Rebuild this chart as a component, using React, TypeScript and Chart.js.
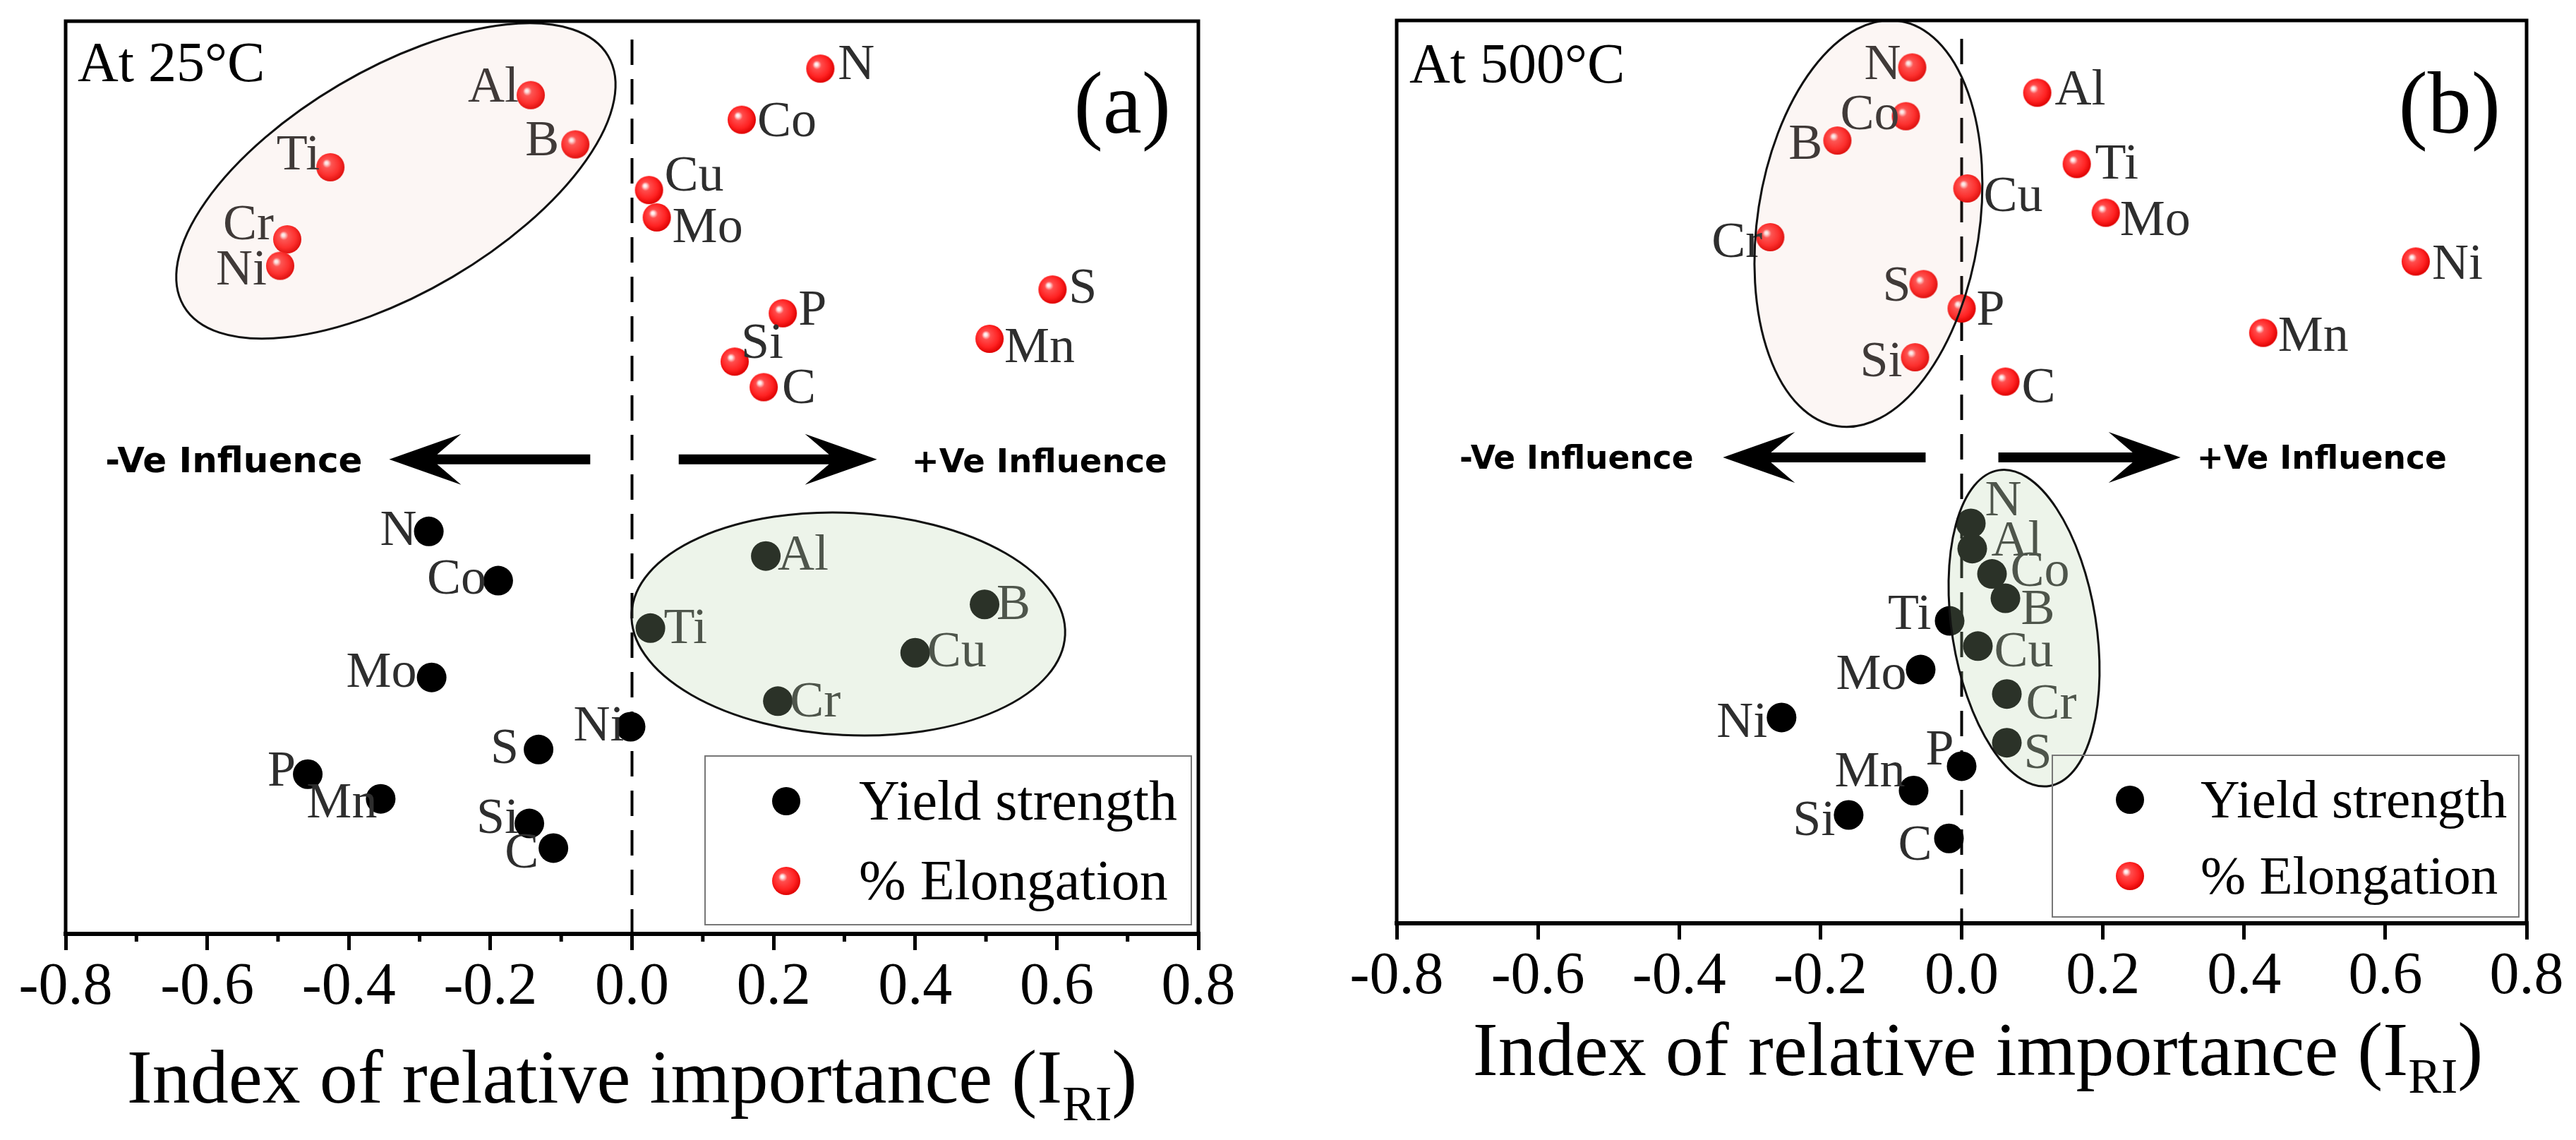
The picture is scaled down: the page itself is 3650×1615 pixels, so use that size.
import React, { useEffect, useRef } from 'react';
import { Chart, registerables } from 'chart.js';

Chart.register(...registerables);

const SERIF = '"Liberation Serif", "Times New Roman", Times, serif';
const SANS = '"DejaVu Sans", "Liberation Sans", Arial, sans-serif';

// ---------- data ----------
const ELEMENTS = ['N', 'Al', 'Co', 'B', 'Ti', 'Cu', 'Mo', 'Cr', 'Ni', 'S', 'P', 'Mn', 'Si', 'C'];
const X_TICK_LABELS = ['-0.8', '-0.6', '-0.4', '-0.2', '0.0', '0.2', '0.4', '0.6', '0.8'];
const MINOR_TICKS = [-0.7, -0.5, -0.3, -0.1, 0.1, 0.3, 0.5, 0.7];

// (a) At 25°C
const A_ELONG_X = [0.266, -0.143, 0.155, -0.080, -0.426, 0.024, 0.035, -0.487, -0.497, 0.594, 0.213, 0.505, 0.145, 0.186];
const A_ELONG_Y = [94.8, 91.9, 89.2, 86.5, 84.0, 81.5, 78.5, 76.1, 73.2, 70.6, 68.0, 65.2, 62.7, 59.9];
const A_YIELD_X = [-0.287, 0.189, -0.189, 0.498, 0.026, 0.400, -0.283, 0.206, -0.002, -0.132, -0.458, -0.355, -0.145, -0.111];
const A_YIELD_Y = [44.1, 41.4, 38.7, 36.1, 33.5, 30.8, 28.1, 25.5, 22.7, 20.2, 17.5, 14.8, 12.1, 9.4];

// (b) At 500°C
const B_ELONG_X = [-0.070, 0.107, -0.079, -0.176, 0.163, 0.008, 0.204, -0.271, 0.643, -0.054, 0.000, 0.427, -0.066, 0.062];
const B_ELONG_Y = [94.8, 92.0, 89.4, 86.7, 84.1, 81.4, 78.7, 76.0, 73.3, 70.8, 68.1, 65.4, 62.7, 60.0];
const B_YIELD_X = [0.013, 0.015, 0.043, 0.062, -0.017, 0.023, -0.058, 0.064, -0.255, 0.064, 0.000, -0.068, -0.160, -0.018];
const B_YIELD_Y = [44.3, 41.5, 38.7, 36.0, 33.5, 30.7, 28.1, 25.4, 22.8, 20.0, 17.4, 14.7, 12.0, 9.4];

// ---------- label placement (px offsets: dx>0 text to the right, dx<0 text to the left) ----------
const A_ELONG_OFF = [[25, -4], [-17, -10], [22, 4], [-23, -3], [-15, -16], [22, -18], [22, 16], [-19, -19], [-19, 8], [23, 0], [22, -3], [21, 14], [9, -24], [26, 4]];
const A_YIELD_OFF = [[-17, 0], [17, 0], [-17, -1], [17, 2], [19, 2], [17, 0], [-21, -6], [17, 3], [-9, 1], [-28, 0], [-17, -3], [-5, 7], [-15, -5], [-21, 9]];
const B_ELONG_OFF = [[-16, -2], [25, -2], [-9, 0], [-21, 7], [26, 2], [23, 13], [20, 13], [-11, 9], [23, 6], [-18, 5], [21, 4], [21, 7], [-18, 8], [23, 10]];
const B_YIELD_OFF = [[20, -30], [27, -9], [26, -2], [22, 18], [-26, -7], [23, 10], [-20, 8], [27, 16], [-20, 9], [24, 17], [-11, -21], [-12, -25], [-19, 10], [-24, 11]];

type Ell = { cx: number; cy: number; a: number; b: number; rot: number; fill: string };
type Panel = {
  width: number;
  pad: { left: number; right: number; top: number };
  xAxisHeight: number;
  elongX: number[]; elongY: number[]; yieldX: number[]; yieldY: number[];
  elongOff: number[][]; yieldOff: number[][];
  minor: boolean;
  ellipses: Ell[];
  arrowY: number; arrows: number[][]; negTextX: number; posTextX: number; negSize: number; posSize: number; inflDrop: number;
  legend: { dx: number; dy: number; w: number; h: number; mx: number; tx: number; r1: number; r2: number; font: number };
  temp: { text: string; dx: number; dy: number; size: number };
  tag: { text: string; inset: number; dy: number; size: number };
  title: { offset: number; baseline: number };
};

const PINK = 'rgba(230,170,150,0.10)';
const GREEN = 'rgba(180,209,167,0.24)';

const PANEL_A: Panel = {
  width: 1800,
  pad: { left: 93, right: 102, top: 30 },
  xAxisHeight: 292,
  elongX: A_ELONG_X, elongY: A_ELONG_Y, yieldX: A_YIELD_X, yieldY: A_YIELD_Y,
  elongOff: A_ELONG_OFF, yieldOff: A_YIELD_OFF,
  minor: true,
  ellipses: [
    { cx: -0.3335, cy: 82.5, a: 349, b: 158, rot: -30.5, fill: PINK },
    { cx: 0.3056, cy: 33.95, a: 307.5, b: 157.5, rot: 2.9, fill: GREEN },
  ],
  arrowY: 52.0, arrows: [[-0.059, -0.343], [0.066, 0.346]], negTextX: -0.744, posTextX: 0.395, negSize: 50, posSize: 46.5, inflDrop: 18,
  legend: { dx: -699, dy: -252, w: 689, h: 239, mx: 115, tx: 218, r1: 64, r2: 177, font: 80 },
  temp: { text: 'At 25°C', dx: 17, dy: 85, size: 80 },
  tag: { text: '(a)', inset: 39, dy: 158, size: 124 },
  title: { offset: 0, baseline: 239 },
};

const PANEL_B: Panel = {
  width: 1850,
  pad: { left: 179, right: 70, top: 29 },
  xAxisHeight: 307,
  elongX: B_ELONG_X, elongY: B_ELONG_Y, yieldX: B_YIELD_X, yieldY: B_YIELD_Y,
  elongOff: B_ELONG_OFF, yieldOff: B_YIELD_OFF,
  minor: false,
  ellipses: [
    { cx: -0.132, cy: 77.5, a: 290.4, b: 157.2, rot: -81.3, fill: PINK },
    { cx: 0.0884, cy: 32.7, a: 226.5, b: 102.1, rot: -99.1, fill: GREEN },
  ],
  arrowY: 51.6, arrows: [[-0.051, -0.338], [0.052, 0.310]], negTextX: -0.711, posTextX: 0.333, negSize: 45.5, posSize: 45.5, inflDrop: 15.5,
  legend: { dx: -672, dy: -238, w: 661, h: 229, mx: 110, tx: 210, r1: 63, r2: 171, font: 77 },
  temp: { text: 'At 500°C', dx: 18, dy: 88, size: 80 },
  tag: { text: '(b)', inset: 37, dy: 159, size: 124 },
  title: { offset: 23, baseline: 215 },
};

function makeBall(r: number): HTMLCanvasElement {
  const c = document.createElement('canvas');
  const s = Math.ceil(r * 2 + 2);
  c.width = s;
  c.height = s;
  const g = c.getContext('2d')!;
  const cx = s / 2, cy = s / 2;
  const grad = g.createRadialGradient(cx - r * 0.3, cy - r * 0.32, 0, cx - r * 0.08, cy - r * 0.1, r * 1.12);
  grad.addColorStop(0, '#ffffff');
  grad.addColorStop(0.1, '#ffe4e4');
  grad.addColorStop(0.28, '#ff4d4d');
  grad.addColorStop(0.7, '#ff2222');
  grad.addColorStop(1, '#dd0000');
  g.fillStyle = grad;
  g.beginPath();
  g.arc(cx, cy, r, 0, Math.PI * 2);
  g.fill();
  return c;
}

function drawArrow(ctx: CanvasRenderingContext2D, xTail: number, xTip: number, y: number) {
  const dir = Math.sign(xTip - xTail);
  const headLen = 102, headHalf = 36, notch = 68, shaftHalf = 7;
  ctx.beginPath();
  ctx.moveTo(xTip, y);
  ctx.lineTo(xTip - dir * headLen, y - headHalf);
  ctx.lineTo(xTip - dir * notch, y - shaftHalf);
  ctx.lineTo(xTail, y - shaftHalf);
  ctx.lineTo(xTail, y + shaftHalf);
  ctx.lineTo(xTip - dir * notch, y + shaftHalf);
  ctx.lineTo(xTip - dir * headLen, y + headHalf);
  ctx.closePath();
  ctx.fillStyle = '#000';
  ctx.fill();
}

function buildChart(canvas: HTMLCanvasElement, P: Panel): Chart {
  const ball = makeBall(20);

  const decor = {
    id: 'decor',
    beforeDatasetsDraw(chart: any) {
      const { ctx, chartArea: ca, scales } = chart;
      const x0 = scales.x.getPixelForValue(0);
      ctx.save();
      ctx.strokeStyle = '#000';
      ctx.lineWidth = 4;
      ctx.setLineDash([36, 20]);
      ctx.beginPath();
      ctx.moveTo(x0, ca.top + 26);
      ctx.lineTo(x0, ca.bottom);
      ctx.stroke();
      ctx.restore();
    },
    afterDatasetsDraw(chart: any) {
      const { ctx, chartArea: ca, scales } = chart;
      const sx = scales.x, sy = scales.y;
      ctx.save();
      // element labels
      ctx.fillStyle = '#2e2e2e';
      ctx.font = `72px ${SERIF}`;
      ctx.textBaseline = 'middle';
      const drawLabels = (idx: number, offs: number[][]) => {
        const meta = chart.getDatasetMeta(idx);
        meta.data.forEach((pt: any, i: number) => {
          const [dx, dy] = offs[i];
          ctx.textAlign = dx >= 0 ? 'left' : 'right';
          ctx.fillText(ELEMENTS[i], pt.x + dx, pt.y + dy);
        });
      };
      drawLabels(0, P.yieldOff);
      drawLabels(1, P.elongOff);

      // ellipses
      P.ellipses.forEach((e) => {
        ctx.save();
        ctx.translate(sx.getPixelForValue(e.cx), sy.getPixelForValue(e.cy));
        ctx.rotate((e.rot * Math.PI) / 180);
        ctx.beginPath();
        ctx.ellipse(0, 0, e.a, e.b, 0, 0, Math.PI * 2);
        ctx.fillStyle = e.fill;
        ctx.fill();
        ctx.lineWidth = 3;
        ctx.strokeStyle = '#111';
        ctx.stroke();
        ctx.restore();
      });

      // arrows + influence text
      const ay = sy.getPixelForValue(P.arrowY);
      P.arrows.forEach(([tail, tip]) => drawArrow(ctx, sx.getPixelForValue(tail), sx.getPixelForValue(tip), ay));
      ctx.fillStyle = '#000';
      ctx.textAlign = 'left';
      ctx.textBaseline = 'alphabetic';
      ctx.font = `bold ${P.negSize}px ${SANS}`;
      ctx.fillText('-Ve Influence', sx.getPixelForValue(P.negTextX), ay + P.inflDrop);
      ctx.font = `bold ${P.posSize}px ${SANS}`;
      ctx.fillText('+Ve Influence', sx.getPixelForValue(P.posTextX), ay + P.inflDrop);

      // legend
      const L = P.legend;
      const lx = ca.right + L.dx, ly = ca.bottom + L.dy;
      ctx.lineWidth = 2;
      ctx.strokeStyle = '#777';
      ctx.strokeRect(lx, ly, L.w, L.h);
      ctx.fillStyle = '#000';
      ctx.beginPath();
      ctx.arc(lx + L.mx, ly + L.r1, 20, 0, Math.PI * 2);
      ctx.fill();
      ctx.drawImage(ball, lx + L.mx - ball.width / 2, ly + L.r2 - ball.height / 2);
      ctx.font = `${L.font}px ${SERIF}`;
      ctx.textAlign = 'left';
      ctx.textBaseline = 'alphabetic';
      const capHalf = L.font * 0.33;
      ctx.fillText('Yield strength', lx + L.tx, ly + L.r1 + capHalf);
      ctx.fillText('% Elongation', lx + L.tx, ly + L.r2 + capHalf);

      // temperature + panel tag
      ctx.font = `${P.temp.size}px ${SERIF}`;
      ctx.fillText(P.temp.text, ca.left + P.temp.dx, ca.top + P.temp.dy);
      ctx.font = `${P.tag.size}px ${SERIF}`;
      ctx.textAlign = 'right';
      ctx.fillText(P.tag.text, ca.right - P.tag.inset, ca.top + P.tag.dy);

      // frame (left, top, right)
      ctx.strokeStyle = '#000';
      ctx.lineWidth = 5;
      ctx.setLineDash([]);
      ctx.beginPath();
      ctx.moveTo(ca.left, ca.bottom);
      ctx.lineTo(ca.left, ca.top);
      ctx.lineTo(ca.right, ca.top);
      ctx.lineTo(ca.right, ca.bottom);
      ctx.stroke();
      ctx.restore();
    },
    afterDraw(chart: any) {
      const { ctx, chartArea: ca, scales } = chart;
      const sx = scales.x;
      ctx.save();
      if (P.minor) {
        ctx.strokeStyle = '#000';
        ctx.lineWidth = 5;
        MINOR_TICKS.forEach((v) => {
          const px = sx.getPixelForValue(v);
          ctx.beginPath();
          ctx.moveTo(px, ca.bottom);
          ctx.lineTo(px, ca.bottom + 11);
          ctx.stroke();
        });
      }
      // axis title with subscript
      const main = 'Index of relative importance (I';
      const mainFont = `108px ${SERIF}`;
      const subFont = `70px ${SERIF}`;
      ctx.font = mainFont;
      const w1 = ctx.measureText(main).width;
      const w3 = ctx.measureText(')').width;
      ctx.font = subFont;
      const w2 = ctx.measureText('RI').width;
      const total = w1 + w2 + w3;
      const cx = (ca.left + ca.right) / 2 + P.title.offset;
      const base = ca.bottom + P.title.baseline;
      let x = cx - total / 2;
      ctx.fillStyle = '#000';
      ctx.textAlign = 'left';
      ctx.textBaseline = 'alphabetic';
      ctx.font = mainFont;
      ctx.fillText(main, x, base);
      x += w1;
      ctx.font = subFont;
      ctx.fillText('RI', x, base + 25);
      x += w2;
      ctx.font = mainFont;
      ctx.fillText(')', x, base);
      ctx.restore();
    },
  };

  return new Chart(canvas, {
    type: 'scatter',
    data: {
      datasets: [
        {
          label: 'Yield strength',
          data: P.yieldX.map((x, i) => ({ x, y: P.yieldY[i] })),
          pointStyle: 'circle',
          pointRadius: 21,
          backgroundColor: '#000',
          borderWidth: 0,
        },
        {
          label: '% Elongation',
          data: P.elongX.map((x, i) => ({ x, y: P.elongY[i] })),
          pointStyle: ball as any,
          pointRadius: 20,
          backgroundColor: '#ff2020',
          borderWidth: 0,
        },
      ],
    },
    options: {
      animation: false,
      responsive: false,
      maintainAspectRatio: false,
      devicePixelRatio: 1,
      events: [],
      layout: { padding: { left: P.pad.left, right: P.pad.right, top: P.pad.top, bottom: 0 } },
      plugins: { legend: { display: false }, tooltip: { enabled: false }, title: { display: false } },
      scales: {
        x: {
          type: 'linear',
          min: -0.8,
          max: 0.8,
          afterFit: (s: any) => {
            s.height = P.xAxisHeight;
            s.paddingLeft = 0;
            s.paddingRight = 0;
          },
          ticks: {
            stepSize: 0.2,
            autoSkip: false,
            maxRotation: 0,
            padding: 4,
            color: '#000',
            font: { family: SERIF, size: 84 },
            callback: (_v: any, i: number) => X_TICK_LABELS[i] ?? '',
          },
          grid: { display: true, drawOnChartArea: false, drawTicks: true, tickLength: 23, tickWidth: 5, tickColor: '#000', color: '#000', lineWidth: 5 },
          border: { display: true, color: '#000', width: 6 },
          title: { display: false },
        },
        y: { type: 'linear', display: false, min: 0, max: 100 },
      },
    } as any,
    plugins: [decor],
  });
}

export default function App() {
  const refA = useRef<HTMLCanvasElement>(null);
  const refB = useRef<HTMLCanvasElement>(null);
  useEffect(() => {
    document.body.style.margin = '0';
    const ca = buildChart(refA.current!, PANEL_A);
    const cb = buildChart(refB.current!, PANEL_B);
    return () => {
      ca.destroy();
      cb.destroy();
    };
  }, []);
  return (
    <div style={{ position: 'relative', width: 3650, height: 1615, background: '#fff', overflow: 'hidden' }}>
      <canvas ref={refA} width={PANEL_A.width} height={1615} style={{ position: 'absolute', left: 0, top: 0, width: PANEL_A.width, height: 1615 }} />
      <canvas ref={refB} width={PANEL_B.width} height={1615} style={{ position: 'absolute', left: 1800, top: 0, width: PANEL_B.width, height: 1615 }} />
    </div>
  );
}
